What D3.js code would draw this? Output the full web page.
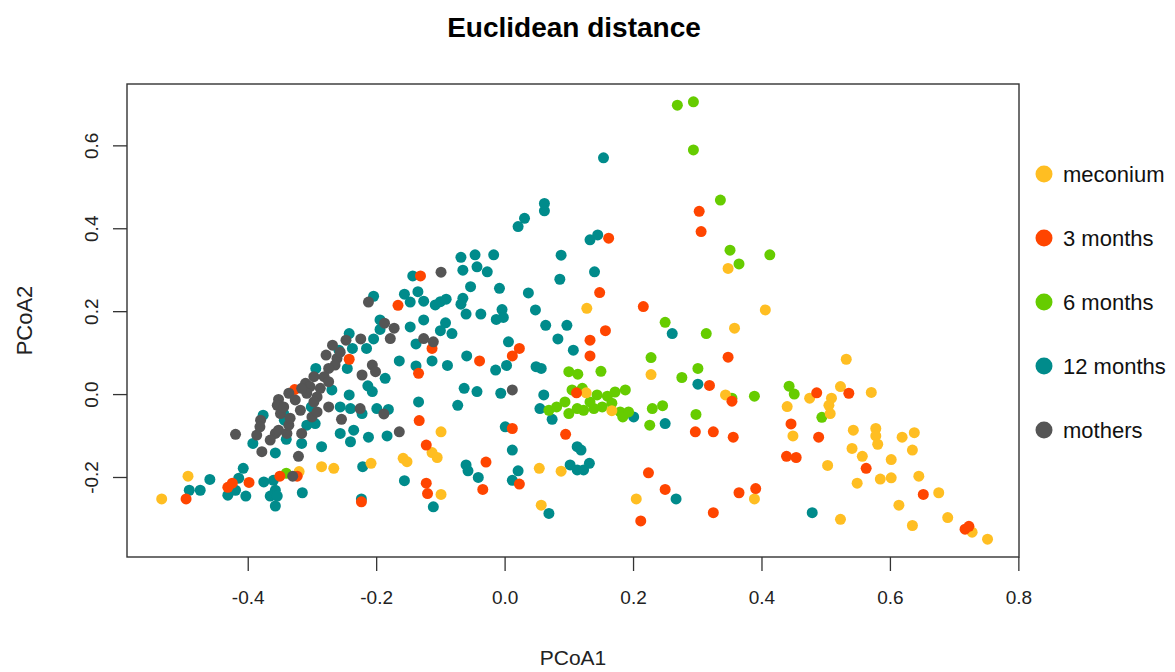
<!DOCTYPE html>
<html>
<head>
<meta charset="utf-8">
<script src="https://cdn.jsdelivr.net/npm/d3@7"></script>
<style>
  body { margin: 0; background: #fff; }
  svg { font-family: "Liberation Sans", Arial, Helvetica, sans-serif; }
</style>
</head>
<body>
<div id="chart"></div>
<script>
/* PCoA of Euclidean distances, samples coloured by time point. */
const groups = ["meconium", "3 months", "6 months", "12 months", "mothers"];
const colors = ["#FFBE22", "#FF4500", "#66CC00", "#008B8B", "#555555"];
const xTicks = [-0.4, -0.2, 0.0, 0.2, 0.4, 0.6, 0.8];
const yTicks = [-0.2, 0.0, 0.2, 0.4, 0.6];

const meconium = [
  [-0.534,-0.253],[-0.493,-0.198],[-0.320,-0.187],[-0.285,-0.175],[-0.266,-0.179],[-0.208,-0.167],
  [-0.158,-0.155],[-0.152,-0.163],[-0.099,-0.091],[-0.113,-0.141],[-0.105,-0.153],[-0.099,-0.242],
  [0.054,-0.179],[0.088,-0.186],[0.057,-0.268],[0.128,0.207],[0.127,0.003],[0.167,-0.040],
  [0.228,0.047],[0.205,-0.253],[0.348,0.303],[0.406,0.203],[0.358,0.159],[0.532,0.084],
  [0.523,0.018],[0.571,0.004],[0.344,-0.002],[0.475,-0.010],[0.509,-0.010],[0.440,-0.030],
  [0.505,-0.027],[0.507,-0.047],[0.449,-0.101],[0.543,-0.087],[0.578,-0.083],[0.578,-0.101],
  [0.581,-0.121],[0.619,-0.104],[0.638,-0.093],[0.541,-0.131],[0.557,-0.150],[0.635,-0.135],
  [0.602,-0.158],[0.503,-0.172],[0.549,-0.215],[0.585,-0.205],[0.602,-0.202],[0.645,-0.198],
  [0.676,-0.238],[0.389,-0.253],[0.523,-0.302],[0.614,-0.268],[0.635,-0.317],[0.690,-0.298],
  [0.728,-0.333],[0.752,-0.350]
];

const months3 = [
  [-0.496,-0.253],[-0.424,-0.215],[-0.431,-0.225],[-0.398,-0.213],[-0.350,-0.198],[-0.323,-0.198],
  [-0.327,0.011],[-0.242,0.084],[-0.166,0.214],[-0.131,0.285],[-0.134,0.050],[-0.133,-0.064],
  [-0.223,-0.260],[-0.122,-0.123],[-0.122,-0.215],[-0.120,-0.240],[-0.113,0.110],[-0.039,0.080],
  [-0.029,-0.164],[-0.034,-0.230],[0.012,0.092],[0.023,0.110],[0.012,-0.083],[0.023,-0.217],
  [0.095,-0.097],[0.112,0.003],[0.133,0.130],[0.133,0.092],[0.157,0.153],[0.148,0.245],
  [0.162,0.376],[0.216,0.211],[0.303,0.441],[0.306,0.392],[0.319,0.021],[0.297,-0.091],
  [0.325,-0.091],[0.224,-0.190],[0.250,-0.230],[0.212,-0.306],[0.325,-0.286],[0.348,0.089],
  [0.354,-0.017],[0.356,-0.104],[0.365,-0.238],[0.391,-0.228],[0.439,-0.150],[0.454,-0.153],
  [0.446,-0.072],[0.486,0.003],[0.536,0.002],[0.489,-0.104],[0.563,-0.179],[0.652,-0.242],
  [0.717,-0.326],[0.723,-0.319]
];

const months6 = [
  [-0.340,-0.191],[0.269,0.697],[0.294,0.705],[0.294,0.589],[0.336,0.468],[0.351,0.347],
  [0.365,0.314],[0.413,0.336],[0.250,0.173],[0.314,0.146],[0.228,0.088],[0.301,0.062],
  [0.276,0.040],[0.100,0.054],[0.114,0.048],[0.150,0.055],[0.443,0.019],[0.451,0.000],
  [0.389,-0.005],[0.354,-0.010],[0.494,-0.056],[0.069,-0.039],[0.081,-0.031],[0.100,-0.047],
  [0.113,-0.035],[0.123,-0.039],[0.139,-0.035],[0.152,-0.031],[0.180,-0.043],[0.184,-0.055],
  [0.193,-0.043],[0.230,-0.035],[0.246,-0.028],[0.226,-0.075],[0.298,-0.049],[0.105,0.010],
  [0.121,0.014],[0.144,-0.002],[0.160,-0.005],[0.172,0.005],[0.188,0.010],[0.133,-0.019],
  [0.167,-0.022],[0.094,-0.019]
];

const months12 = [
  [-0.301,-0.031],[-0.376,-0.051],[-0.392,-0.119],[-0.357,-0.142],[-0.343,-0.063],[-0.340,-0.109],
  [-0.316,-0.119],[-0.308,-0.075],[-0.295,-0.071],[-0.256,-0.031],[-0.240,-0.035],[-0.222,-0.047],
  [-0.199,-0.035],[-0.181,-0.037],[-0.285,-0.127],[-0.256,-0.095],[-0.235,-0.087],[-0.240,-0.115],
  [-0.212,-0.104],[-0.183,-0.101],[-0.221,-0.175],[-0.156,-0.209],[-0.459,-0.206],[-0.491,-0.232],
  [-0.474,-0.232],[-0.407,-0.179],[-0.414,-0.203],[-0.431,-0.244],[-0.419,-0.232],[-0.403,-0.246],
  [-0.375,-0.212],[-0.360,-0.208],[-0.357,-0.232],[-0.365,-0.246],[-0.354,-0.246],[-0.357,-0.270],
  [-0.315,-0.238],[-0.223,-0.253],[-0.134,-0.019],[-0.344,-0.047],
  [-0.143,0.285],[-0.204,0.236],[-0.156,0.241],[-0.147,0.222],[-0.135,0.247],[-0.194,0.179],
  [-0.204,0.133],[-0.194,0.156],[-0.242,0.146],[-0.215,0.110],[-0.237,0.110],[-0.258,0.106],
  [-0.245,0.062],[-0.294,0.062],[-0.213,0.020],[-0.186,0.038],[-0.269,0.010],[-0.242,-0.002],
  [-0.206,0.006],[-0.164,0.080],[-0.147,0.162],[-0.138,0.121],[-0.138,0.068],
  [0.133,0.372],[-0.068,0.330],[-0.046,0.336],[-0.017,0.336],[0.088,0.335],[-0.065,0.299],
  [-0.043,0.307],[-0.027,0.295],[0.140,0.295],[0.086,0.277],[-0.053,0.259],[-0.008,0.255],
  [0.037,0.244],[-0.126,0.224],[-0.108,0.215],[-0.100,0.223],[-0.091,0.229],[-0.065,0.231],
  [-0.068,0.217],[-0.060,0.193],[-0.037,0.193],[-0.004,0.204],[0.048,0.203],[-0.013,0.180],
  [-0.002,0.185],[-0.126,0.179],[-0.092,0.172],[-0.100,0.153],[-0.082,0.146],[0.064,0.166],
  [0.097,0.166],[0.261,0.146],[0.083,0.133],[0.006,0.126],[0.107,0.106],[-0.113,0.080],
  [-0.059,0.092],[-0.089,0.069],[-0.014,0.058],[0.003,0.069],[0.049,0.066],[0.057,0.062],
  [0.301,0.024],[-0.063,0.014],[-0.043,0.006],[-0.006,0.002],[0.061,-0.002],
  [0.154,0.570],[0.062,0.460],[0.062,0.442],[0.031,0.424],[0.021,0.404],[0.145,0.384],
  [-0.073,-0.027],[0.055,-0.035],[0.074,-0.061],[0.201,-0.055],[0.250,-0.071],[0.001,-0.079],
  [0.012,-0.135],[0.113,-0.127],[0.119,-0.135],[-0.060,-0.171],[-0.057,-0.185],[-0.041,-0.201],
  [0.021,-0.185],[0.012,-0.208],[0.102,-0.171],[0.113,-0.183],[0.123,-0.183],[0.132,-0.167],
  [-0.111,-0.272],[0.069,-0.288],[0.267,-0.253],[0.479,-0.286]
];

const mothers = [
  [-0.187,0.171],[-0.172,0.159],[-0.178,0.134],[-0.247,0.130],[-0.224,0.133],[-0.278,0.094],
  [-0.261,0.086],[-0.264,0.070],[-0.274,0.062],[-0.281,0.042],[-0.274,0.030],[-0.206,0.070],
  [-0.201,0.054],[-0.222,0.046],[-0.310,0.026],[-0.303,0.018],[-0.292,-0.007],[-0.308,0.002],
  [-0.316,0.014],[-0.336,0.002],[-0.352,-0.013],[-0.297,0.042],[-0.212,0.222],
  [-0.354,-0.027],[-0.297,-0.019],[-0.380,-0.063],[-0.381,-0.079],[-0.386,-0.099],[-0.419,-0.097],
  [-0.378,-0.139],[-0.357,-0.095],[-0.352,-0.087],[-0.339,-0.095],[-0.336,-0.075],[-0.316,-0.095],
  [-0.321,-0.150],[-0.300,-0.055],[-0.292,-0.043],[-0.274,-0.031],[-0.254,-0.061],[-0.225,-0.035],
  [-0.188,-0.048],[-0.164,-0.091],[-0.330,-0.198],[-0.349,-0.047],[-0.344,-0.031],
  [-0.099,0.294],[-0.126,0.134],[-0.111,0.126],[0.012,0.010],
  [-0.326,-0.014],[-0.318,-0.039],[-0.287,0.014],[-0.334,-0.058],[-0.365,-0.111],
  [-0.268,0.118],[-0.256,0.101]
];

const series = [months12, months6, meconium, months3, mothers];
const seriesGroup = [3, 2, 0, 1, 4];

const width = 1175, height = 672;
const margin = { top: 84, right: 156, bottom: 115, left: 127 };

const svg = d3.select("#chart").append("svg")
  .attr("width", width).attr("height", height);

const x = d3.scaleLinear().domain([-0.588, 0.801]).range([margin.left, width - margin.right]);
const y = d3.scaleLinear().domain([-0.393, 0.748]).range([height - margin.bottom, margin.top]);

// points
series.forEach((pts, i) => {
  svg.append("g")
    .attr("fill", colors[seriesGroup[i]])
    .selectAll("circle").data(pts).join("circle")
    .attr("cx", d => x(d[0]))
    .attr("cy", d => y(d[1]))
    .attr("r", 5.5);
});

// frame
svg.append("rect")
  .attr("x", margin.left).attr("y", margin.top)
  .attr("width", width - margin.left - margin.right)
  .attr("height", height - margin.top - margin.bottom)
  .attr("fill", "none").attr("stroke", "#333").attr("stroke-width", 1.4);

// axes
svg.append("g")
  .attr("transform", `translate(0,${height - margin.bottom})`)
  .call(d3.axisBottom(x).tickValues(xTicks).tickFormat(d => d.toFixed(1)).tickSize(14).tickPadding(20))
  .call(g => g.select(".domain").remove())
  .call(g => g.selectAll("line").attr("stroke", "#333").attr("stroke-width", 1.3))
  .call(g => g.selectAll("text").attr("font-size", 19).attr("fill", "#222"));

svg.append("g")
  .attr("transform", `translate(${margin.left},0)`)
  .call(d3.axisLeft(y).tickValues(yTicks).tickFormat(d => d.toFixed(1)).tickSize(14))
  .call(g => g.select(".domain").remove())
  .call(g => g.selectAll("line").attr("stroke", "#333").attr("stroke-width", 1.3))
  .call(g => g.selectAll("text")
    .attr("font-size", 19).attr("fill", "#222")
    .attr("transform", "rotate(-90)")
    .attr("text-anchor", "middle")
    .attr("x", 0).attr("y", -29).attr("dy", 0));

// titles
svg.append("text")
  .attr("x", 574).attr("y", 37)
  .attr("text-anchor", "middle")
  .attr("font-size", 28).attr("font-weight", "bold")
  .text("Euclidean distance");

svg.append("text")
  .attr("x", (margin.left + width - margin.right) / 2).attr("y", 665)
  .attr("text-anchor", "middle").attr("font-size", 21).attr("fill", "#222")
  .text("PCoA1");

svg.append("text")
  .attr("transform", `translate(32,${(margin.top + height - margin.bottom) / 2}) rotate(-90)`)
  .attr("text-anchor", "middle").attr("font-size", 22).attr("fill", "#222")
  .text("PCoA2");

// legend
const legend = svg.append("g").attr("transform", "translate(1044,174)");
const item = legend.selectAll("g").data(groups).join("g")
  .attr("transform", (d, i) => `translate(0,${i * 64})`);
item.append("circle").attr("r", 8.5).attr("fill", (d, i) => colors[i]);
item.append("text").attr("x", 19).attr("dy", "0.35em")
  .attr("font-size", 22).attr("fill", "#111")
  .text(d => d);
</script>
</body>
</html>
